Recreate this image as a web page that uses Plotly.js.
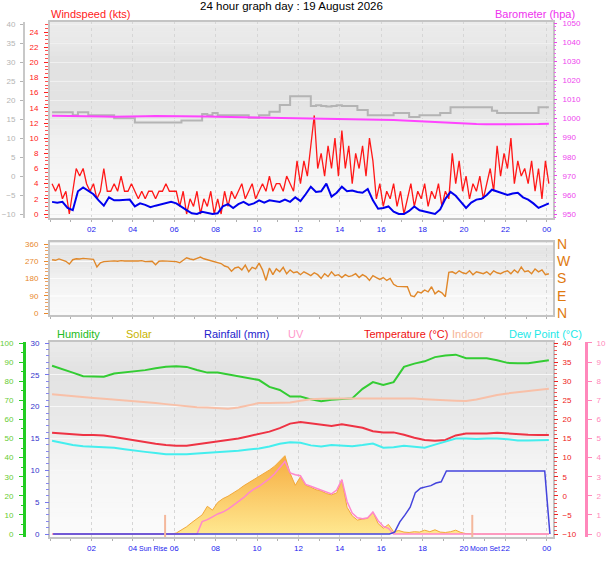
<!DOCTYPE html>
<html>
<head>
<meta charset="utf-8">
<script src="https://cdn.plot.ly/plotly-3.0.1.min.js"></script>
<style>
  html, body { margin: 0; padding: 0; background: #fff; }
  #chart { width: 608px; height: 561px; }
</style>
</head>
<body>
<div id="chart"></div>
<script>
// hour ticks shared by all three panels
const hourTicks = [2, 4, 6, 8, 10, 12, 14, 16, 18, 20, 22, 24];
const hourLabels = ["02", "04", "06", "08", "10", "12", "14", "16", "18", "20", "22", "00"];

// wind gust (kts), one value every 10 minutes from 00:06
const windGust = [
  4, 3, 4, 2, 3, 0,
  3, 6, 5, 6, 4, 3,
  4, 2, 3, 6, 3, 3,
  4, 3, 5, 3, 3, 4,
  3, 2, 3, 2, 3, 3,
  2, 3, 3, 4, 3, 3,
  3, 1, 3, 0, 2, 1,
  3, 0, 2, 1, 3, 0,
  2, 0, 3, 1, 3, 2,
  3, 4, 2, 3, 4, 2,
  3, 4, 3, 5, 3, 4,
  4, 3, 5, 4, 3, 7,
  4, 7, 5, 9, 13, 6,
  8, 5, 9, 6, 10, 5,
  11, 6, 9, 4, 8, 6,
  9, 5, 10, 7, 2, 4,
  1, 3, 2, 4, 1, 3,
  0, 2, 4, 1, 3, 2,
  4, 1, 3, 2, 4, 1,
  3, 2, 8, 4, 7, 3,
  5, 2, 4, 3, 5, 2,
  4, 6, 3, 9, 5, 8,
  6, 10, 4, 7, 5, 6,
  4, 7, 3, 6, 2, 7,
  4
];

// average wind (kts), every 15 minutes from 00:06
const windAvg = [
  1.6, 1.5, 1.6, 0.8, 0.5, 3.0, 3.5, 3.0, 2.6, 1.8, 1.1, 2.2,
  1.8, 1.8, 1.9, 1.9, 1.0, 1.4, 1.2, 0.9, 1.1, 1.3, 1.5, 1.6,
  1.4, 0.9, 0.5, 0.1, 0.0, 0.3, 0.2, 0.0, 0.1, 1.0, 1.3, 0.8,
  1.3, 1.6, 1.2, 1.4, 1.8, 1.5, 1.8, 1.7, 1.6, 1.9, 1.6, 2.2,
  1.7, 2.6, 3.6, 2.9, 3.0, 4.0, 2.3, 2.8, 3.6, 3.0, 3.1, 2.9,
  2.8, 3.3, 1.8, 0.7, 0.8, 1.0, 0.3, 0.0, 0.0, 0.4, 1.0, 0.5,
  0.3, 0.2, 0.0, 0.6, 2.0, 2.9, 2.4, 1.6, 0.8, 1.5, 1.9, 2.0,
  2.5, 3.2, 3.0, 2.8, 2.5, 2.7, 2.8, 2.2, 1.9, 1.4, 0.8, 1.1,
  1.4
];

// grey trace on the outer left scale, every 15 minutes
const greyLine = [
  16.8, 16.8, 16.8, 16.8, 16.0, 16.8, 16.8, 16.0, 16.0, 16.0, 16.0, 16.0,
  15.2, 15.2, 15.2, 15.2, 14.1, 14.1, 14.1, 14.1, 14.1, 14.1, 14.1, 14.1,
  14.1, 14.6, 14.6, 14.6, 14.6, 16.3, 16.0, 16.6, 16.0, 16.0, 16.0, 16.0,
  16.0, 16.0, 15.3, 15.3, 16.0, 16.0, 16.9, 16.9, 18.7, 18.7, 21.0, 21.0,
  21.0, 21.0, 18.4, 18.6, 18.4, 18.3, 18.4, 18.6, 18.4, 18.4, 18.4, 17.4,
  17.4, 16.0, 16.0, 16.0, 16.0, 16.0, 16.6, 16.6, 16.6, 15.5, 15.5, 16.0,
  16.0, 16.0, 16.0, 16.6, 16.6, 18.1, 18.1, 18.1, 18.1, 18.1, 18.1, 18.1,
  18.1, 17.2, 16.6, 16.6, 16.6, 16.6, 16.6, 16.6, 16.6, 16.6, 18.1, 18.1,
  18.1
];

// barometer (hPa), every 30 minutes
const barometer = [
  1001.4, 1001.4, 1001.3, 1001.3, 1001.2, 1001.1, 1000.9, 1000.9, 1000.9, 1001.2,
  1001.3, 1001.3, 1001.3, 1001.3, 1001.2, 1001.1, 1000.9, 1000.8, 1000.8, 1000.7,
  1000.6, 1000.5, 1000.4, 1000.3, 1000.2, 1000.2, 1000.1, 1000.1, 1000.0, 999.9,
  999.8, 999.7, 999.5, 999.2, 998.9, 998.6, 998.3, 998.0, 997.7, 997.4,
  997.2, 997.1, 997.0, 997.0, 997.0, 996.9, 996.9, 997.1, 997.3
];

// wind direction (degrees), every 10 minutes
const windDir = [
  278, 275, 282, 276, 270, 255,
  278, 283, 282, 285, 284, 283,
  280, 240, 262, 268, 270, 271,
  272, 270, 273, 271, 272, 270,
  272, 271, 273, 268, 271, 270,
  252, 270, 272, 271, 270, 268,
  268, 262, 275, 288, 282, 278,
  285, 292, 283, 278, 274, 268,
  265, 258, 245, 240, 218, 235,
  240, 225, 250, 215, 238, 230,
  260, 225, 170, 235, 200, 230,
  215, 238, 205, 225, 210, 215,
  200, 215, 205, 195, 210, 200,
  180, 205, 190, 215, 195, 200,
  185, 200, 190, 195, 205, 185,
  200, 190, 170, 195, 185, 175,
  185, 170, 180, 150, 139, 139,
  138, 137, 90, 85, 110, 105,
  120, 110, 137, 100, 115, 105,
  85, 212, 215, 205, 220, 210,
  205, 220, 200, 215, 210, 205,
  215, 200, 220, 210, 205, 215,
  220, 205, 225, 210, 240, 215,
  220, 205, 230, 215, 225, 200,
  205
];
const dirTicks = [0, 90, 180, 270, 360];
const compassLabels = ["N", "E", "S", "W", "N"];

// humidity (%), every 30 minutes
const humidity = [
  88.1, 86.5, 84.5, 82.6, 82.4, 82.3, 84.0, 84.5, 85.0, 85.8,
  86.8, 87.6, 87.8, 87.5, 85.9, 84.5, 84.5, 83.5, 82.3, 81.3,
  80.6, 77.0, 75.4, 72.0, 72.0, 70.5, 69.5, 70.3, 70.6, 71.0,
  76.0, 79.5, 78.0, 79.5, 87.5, 89.2, 90.4, 92.6, 93.5, 93.9,
  92.0, 92.0, 92.0, 91.0, 89.6, 89.4, 89.4, 90.2, 91.0
];

// indoor temperature (°C), every 30 minutes
const indoorTemp = [
  26.6, 26.3, 26.0, 25.8, 25.6, 25.4, 25.2, 25.0, 24.9, 24.6,
  24.3, 24.0, 23.7, 23.4, 23.2, 23.1, 22.9, 22.8, 23.1, 23.8,
  24.3, 24.3, 24.3, 24.4, 24.9, 25.3, 25.4, 25.5, 25.5, 25.5,
  25.5, 25.5, 25.5, 25.5, 25.5, 25.5, 25.3, 25.1, 25.0, 24.9,
  24.8, 25.2, 25.9, 26.4, 26.8, 27.1, 27.4, 27.7, 28.0
];

// outdoor temperature (°C), every 30 minutes
const temperature = [
  16.5, 16.3, 16.0, 15.9, 15.9, 15.8, 15.4, 14.9, 14.4, 14.0,
  13.6, 13.3, 13.1, 13.1, 13.5, 13.9, 14.2, 14.6, 15.0, 15.6,
  16.1, 16.8, 17.7, 18.9, 19.3, 18.9, 18.5, 18.3, 18.7, 18.2,
  17.8, 16.9, 16.6, 16.6, 16.0, 15.2, 14.6, 14.4, 14.6, 15.8,
  16.3, 16.3, 16.3, 16.5, 16.3, 16.2, 16.0, 15.9, 15.9
];

// dew point (°C), every 30 minutes
const dewPoint = [
  14.4, 13.9, 13.3, 13.0, 12.9, 12.8, 12.6, 12.2, 11.8, 11.5,
  11.2, 10.9, 10.9, 10.9, 11.1, 11.3, 11.4, 11.5, 11.8, 12.1,
  12.4, 12.9, 13.6, 14.0, 13.9, 13.2, 12.9, 13.3, 13.2, 13.0,
  13.3, 13.7, 12.6, 12.7, 13.1, 12.8, 12.6, 13.4, 14.2, 15.0,
  15.0, 14.9, 15.0, 15.0, 14.8, 14.5, 14.5, 14.6, 14.6
];

// rainfall (mm), every 15 minutes from 00:09
const rainfall = [
  0, 0, 0, 0, 0, 0, 0, 0, 0, 0, 0, 0,
  0, 0, 0, 0, 0, 0, 0, 0, 0, 0, 0, 0,
  0, 0, 0, 0, 0, 0, 0, 0, 0, 0, 0, 0,
  0, 0, 0, 0, 0, 0, 0, 0, 0, 0, 0, 0,
  0, 0, 0, 0, 0, 0, 0, 0, 0, 0, 0, 0,
  0, 0, 0, 0, 0, 0, 0.3, 1.9, 3.0, 4.2, 6.5, 7.2,
  7.4, 7.6, 8.0, 8.2, 9.9, 9.9, 9.9, 9.9, 9.9, 9.9, 9.9, 9.9,
  9.9, 9.9, 9.9, 9.9, 9.9, 9.9, 9.9, 9.9, 9.9, 9.9, 9.9, 9.9,
  0
];

// solar radiation, every 15 minutes
const solar = [
  0, 0, 0, 0, 0, 0, 0, 0, 0, 0, 0, 0,
  0, 0, 0, 0, 0, 0, 0, 0, 0, 0, 0, 0,
  5, 20, 38, 60, 80, 100, 145, 125, 165, 185, 198, 213,
  232, 252, 268, 285, 300, 318, 335, 355, 380, 410, 318, 255,
  300, 255, 245, 232, 225, 212, 205, 215, 283, 140, 95, 73,
  78, 82, 115, 55, 30, 50, 12, 18, 10, 8, 12, 10,
  20, 12, 22, 10, 8, 12, 20, 8, 2, 0, 0, 0,
  0, 0, 0, 0, 0, 0, 0, 0, 0, 0, 0, 0,
  0
];

// UV index, every 15 minutes
const uvIndex = [
  0, 0, 0, 0, 0, 0, 0, 0, 0, 0, 0, 0,
  0, 0, 0, 0, 0, 0, 0, 0, 0, 0, 0, 0,
  0, 0, 0, 0, 0, 0.65, 0.75, 0.9, 1.05, 1.15, 1.3, 1.5,
  1.7, 1.9, 2.15, 2.35, 2.5, 2.7, 2.9, 3.15, 3.45, 3.8, 3.2, 3.1,
  3.05, 2.6, 2.5, 2.4, 2.3, 2.2, 2.1, 2.3, 2.85, 1.7, 1.1, 0.85,
  0.8, 0.85, 1.15, 0.7, 0.4, 0.3, 0, 0, 0, 0, 0, 0,
  0, 0, 0, 0, 0, 0, 0, 0, 0, 0, 0, 0,
  0, 0, 0, 0, 0, 0, 0, 0, 0, 0, 0, 0,
  0
];

const sunRise = 5.56;
const moonSet = 20.4;

const W = 608, H = 561;
const px = (x) => x / W;
const py = (y) => 1 - y / H;

const xDom = [px(50), px(553)];
const topDom = [py(218), py(22)];
const midDom = [py(315), py(242)];
const botDom = [py(537), py(342)];

const FONT = "Liberation Sans, Arial, sans-serif";
const frame = "#c4c4c4";

// grey gradient backdrop, darker at the top like the original
function backdrop(xr, yr, stops) {
  const out = [];
  const n = 40;
  for (let i = 0; i < n; i++) {
    const f = (i + 0.5) / n;
    let g = stops[stops.length - 1][1];
    for (let k = 0; k < stops.length - 1; k++) {
      if (f >= stops[k][0] && f <= stops[k + 1][0]) {
        const t = (f - stops[k][0]) / (stops[k + 1][0] - stops[k][0]);
        g = stops[k][1] + t * (stops[k + 1][1] - stops[k][1]);
      }
    }
    g = Math.round(g);
    out.push({
      type: "rect", xref: xr, yref: yr, layer: "below",
      x0: 0, x1: 1, y0: i / n, y1: (i + 1) / n + 0.002,
      line: { width: 0 }, fillcolor: `rgb(${g},${g},${g})`,
    });
  }
  return out;
}

const shapes = [
  ...backdrop("x domain", "y domain", [[0, 251], [0.2, 246], [0.4, 240], [0.5, 233], [0.6, 227], [0.82, 226], [0.9, 233], [1, 235]]),
  ...backdrop("x2 domain", "y4 domain", [[0, 250], [0.4, 244], [0.6, 236], [0.85, 228], [1, 232]]),
  ...backdrop("x3 domain", "y6 domain", [[0, 251], [0.3, 246], [0.5, 238], [0.65, 231], [0.85, 226], [0.95, 232], [1, 234]]),
  { type: "line", xref: "x3", yref: "y9", x0: sunRise, x1: sunRise, y0: -0.47, y1: 3, line: { color: "#f4b89c", width: 2 } },
  { type: "line", xref: "x3", yref: "y9", x0: moonSet, x1: moonSet, y0: -0.47, y1: 3, line: { color: "#f4b89c", width: 2 } },
];

const lbl = (text, x, y, color, anchor, size) => ({
  text, x, y, xref: "paper", yref: "paper", xanchor: anchor || "left", yanchor: "middle",
  showarrow: false, font: { family: FONT, size: size || 11, color },
});

// sun / moon captions sit in the gap between two hour labels
const eventLbl = (text, x) => ({
  text, x, xref: "x3", y: py(548), yref: "paper", showarrow: false, borderpad: 0,
  xanchor: "center", yanchor: "middle", font: { family: FONT, size: 7, color: "#2222ee" },
});

const annotations = [
  lbl("24 hour graph day : 19 August 2026", px(291), py(6), "#000000", "center", 11.5),
  lbl("Windspeed (kts)", px(49), py(14), "#ff1a1a"),
  lbl("Barometer (hpa)", px(577), py(14), "#ee33ee", "right"),
  lbl("Humidity", px(55), py(334), "#22bb22"),
  lbl("Solar", px(124), py(334), "#c8b400"),
  lbl("Rainfall (mm)", px(202), py(334), "#2222cc"),
  lbl("UV", px(286), py(334), "#ff99cc"),
  lbl("Temperature (°C)", px(362), py(334), "#ee1111"),
  lbl("Indoor", px(450), py(334), "#f6b496"),
  lbl("Dew Point (°C)", px(507), py(334), "#22e8e8"),
  eventLbl("Sun Rise", 5.0),
  eventLbl("Moon Set", 21.0),
];

const xBase = {
  domain: xDom, range: [0, 24.3], tickvals: hourTicks, ticktext: hourLabels,
  tickfont: { family: FONT, size: 8, color: "#2222ee" },
  ticks: "outside", ticklen: 2, tickcolor: "#b0b0b0",
  minor: { dtick: 1, ticks: "outside", ticklen: 2, tickcolor: "#b0b0b0" },
  showgrid: true, gridcolor: "#d6d6d6", griddash: "dot", gridwidth: 1,
  showline: true, mirror: true, linecolor: frame, linewidth: 2,
  zeroline: false, automargin: false, fixedrange: true,
};

const yTick = (color, size) => ({
  tickfont: { family: FONT, size: size || 8, color },
  ticks: "outside", ticklen: 4, tickcolor: color, zeroline: false,
  automargin: false, fixedrange: true, showgrid: false,
});

const layout = {
  width: W, height: H,
  margin: { l: 0, r: 0, t: 0, b: 0 },
  paper_bgcolor: "#ffffff", plot_bgcolor: "#f4f4f4",
  font: { family: FONT },
  showlegend: false, hovermode: false,
  shapes, annotations,

  xaxis: { ...xBase, anchor: "y" },
  xaxis2: { ...xBase, anchor: "y4", showticklabels: false },
  xaxis3: { ...xBase, anchor: "y6" },

  yaxis: { ...yTick("#ff2020"), domain: topDom, anchor: "x", range: [-0.527, 25.319],
    tick0: 0, dtick: 2, ticklabelstandoff: 4,
    minor: { dtick: 0.5, ticks: "outside", ticklen: 3, tickcolor: "#ff5050" },
    showline: true, mirror: true, linecolor: frame, linewidth: 2 },
  yaxis2: { ...yTick("#b4b4b4"), overlaying: "y", side: "left", anchor: "free", position: px(24),
    range: [-11.053, 40.526], tick0: 0, dtick: 5, ticklen: 3, ticklabelstandoff: 3,
    showline: true, linecolor: "#c8c8c8", linewidth: 2,
    showgrid: true, gridcolor: "#f0f0f0" },
  yaxis3: { ...yTick("#ee44ee"), overlaying: "y", side: "right", anchor: "x",
    range: [947.906, 1050.524], tick0: 950, dtick: 10, ticklen: 3, ticklabelstandoff: 4,
    minor: { dtick: 2, ticks: "outside", ticklen: 2, tickcolor: "#ee66ee" } },

  yaxis4: { ...yTick("#e8882c"), domain: midDom, anchor: "x2", range: [-10.43, 370.43],
    tickvals: dirTicks, ticklabelstandoff: 4,
    minor: { dtick: 18, ticks: "outside", ticklen: 3, tickcolor: "#eca060" },
    showgrid: true, gridcolor: "#fbfbfb", gridwidth: 1.5,
    showline: true, mirror: true, linecolor: frame, linewidth: 2 },
  yaxis5: { ...yTick("#e07a10", 14), overlaying: "y4", side: "right", anchor: "x2",
    range: [-10.43, 370.43], tickvals: dirTicks, ticktext: compassLabels, ticks: "", ticklabelstandoff: 3 },

  yaxis6: { domain: botDom, anchor: "x3", range: [-15.71, 1005.24], showticklabels: false,
    ticks: "", showgrid: false, zeroline: false, automargin: false, fixedrange: true,
    showline: true, mirror: true, linecolor: frame, linewidth: 2 },
  yaxis7: { ...yTick("#ff88bb"), overlaying: "y6", side: "right", anchor: "free", position: px(586),
    range: [-0.157, 10.052], tick0: 0, dtick: 1, ticklabelstandoff: 3,
    showline: true, linecolor: "#ff88bb", linewidth: 3 },
  yaxis8: { ...yTick("#66cc33"), overlaying: "y6", side: "left", anchor: "free", position: px(24),
    range: [-1.571, 100.524], tick0: 0, dtick: 10, ticklabelstandoff: 4, tickcolor: "#22cc22",
    minor: { dtick: 5, ticks: "outside", ticklen: 2, tickcolor: "#22cc22" },
    showline: true, linecolor: "#22cc22", linewidth: 3 },
  yaxis9: { ...yTick("#3333cc"), overlaying: "y6", side: "left", anchor: "x3",
    range: [-0.471, 30.157], tick0: 0, dtick: 5, ticklabelstandoff: 4, tickcolor: "#7777ee",
    minor: { dtick: 1, ticks: "outside", ticklen: 3, tickcolor: "#8888ee" },
    showgrid: true, gridcolor: "#f7f7f7" },
  yaxis10: { ...yTick("#ee2222"), overlaying: "y6", side: "right", anchor: "x3",
    range: [-10.785, 40.262], tick0: -10, dtick: 5, ticklabelstandoff: 3,
    minor: { dtick: 1, ticks: "outside", ticklen: 3, tickcolor: "#ee5555" } },
};

const line = (y, x0, dx, xa, ya, color, width, extra) => Object.assign({
  type: "scatter", mode: "lines", y, x0, dx, xaxis: xa, yaxis: ya,
  line: { color, width }, hoverinfo: "skip", cliponaxis: true,
}, extra || {});

const traces = [
  line(windGust, 0.1, 1 / 6, "x", "y", "#ff1818", 1.3),
  line(windAvg, 0.1, 0.25, "x", "y", "#0000ee", 2),
  line(greyLine, 0.1, 0.25, "x", "y2", "#b4b4b4", 2, { line: { color: "#b4b4b4", width: 2, shape: "hv" } }),
  line(barometer, 0.1, 0.5, "x", "y3", "#ff44ff", 2),

  line(windDir, 0.1, 1 / 6, "x2", "y4", "#e0882a", 1.4),
  line(windDir, 0.1, 1 / 6, "x2", "y5", "rgba(0,0,0,0)", 0),

  line(solar, 0.1, 0.25, "x3", "y6", "#f2a83a", 1, {
    fill: "tozeroy", fillcolor: "#fbc860",
    fillgradient: { type: "vertical", colorscale: [[0, "#ffe890"], [1, "#f6ac40"]] },
  }),
  line(uvIndex, 0.1, 0.25, "x3", "y7", "#ff88cc", 1.5),
  line(humidity, 0.1, 0.5, "x3", "y8", "#33cc33", 2),
  line(rainfall, 0.15, 0.25, "x3", "y9", "#4444dd", 1.5),
  line(indoorTemp, 0.1, 0.5, "x3", "y10", "#f8c0a8", 2),
  line(temperature, 0.1, 0.5, "x3", "y10", "#ee3344", 2),
  line(dewPoint, 0.1, 0.5, "x3", "y10", "#44eeee", 2),
];

Plotly.newPlot("chart", traces, layout, { staticPlot: true, displayModeBar: false });
</script>
</body>
</html>
